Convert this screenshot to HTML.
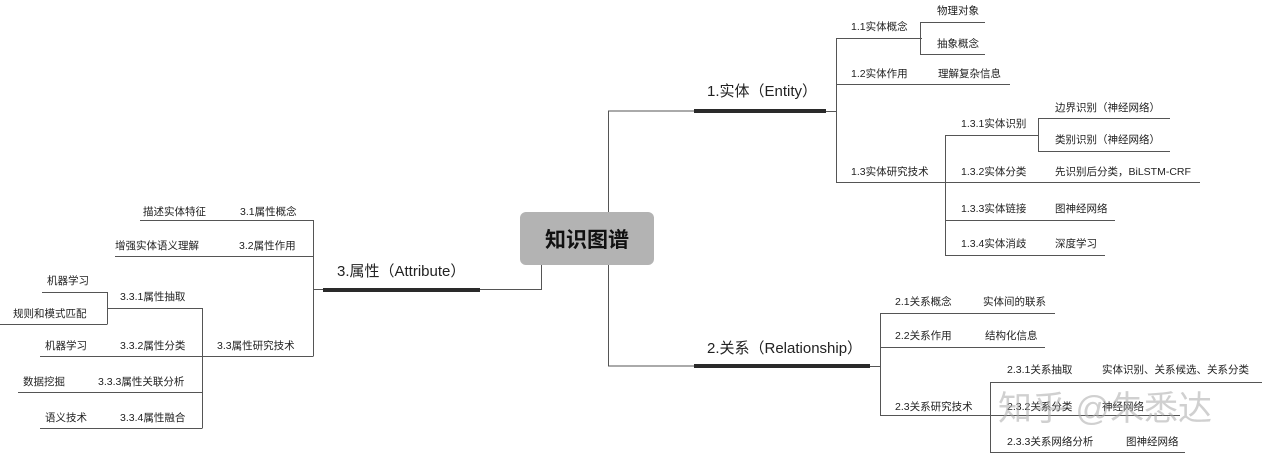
<!DOCTYPE html>
<html><head><meta charset="utf-8"><style>
html,body{margin:0;padding:0;background:#fff;}
svg{display:block;}
text{font-family:"Liberation Sans","Noto Sans CJK SC",sans-serif;fill:#222;font-size:10.5px;}
.m{font-size:15px;}
</style></head><body>
<svg width="1268" height="457" viewBox="0 0 1268 457" xmlns="http://www.w3.org/2000/svg">
<g stroke="#555" stroke-width="1" fill="none">
<path d="M608.5 111V366M608 111H695M608 366H695"/>
<path d="M541.5 264V289.5H480"/>
<path d="M826 111.5H836.5M836.5 38V182"/>
<path d="M836 38.5H922M920.5 22V54M920 22.5H985M920 54.5H985"/>
<path d="M836 84.5H1010"/>
<path d="M836 182.5H945M945.5 135V255"/>
<path d="M945 135.5H1038M1038.5 118V151M1038 118.5H1170M1038 151.5H1170"/>
<path d="M945 182.5H1200M945 220.5H1115M945 255.5H1105"/>
<path d="M870 366.5H880.5M880.5 313V415"/>
<path d="M880 313.5H1055M880 347.5H1045M880 415.5H990M990.5 382V452"/>
<path d="M990 382.5H1262M990 415.5H1180M990 452.5H1185"/>
<path d="M323 289.5H313.5M313.5 220V356"/>
<path d="M140 220.5H313.5M115 256.5H313.5M40 356.5H313.5"/>
<path d="M202.5 308V428M108 308.5H202.5M107.5 292V324M42 292.5H107.5M0 324.5H107.5"/>
<path d="M18 392.5H202.5M40 428.5H202.5"/>
</g>
<g stroke="#2a2a2a" stroke-width="4">
<path d="M694 111H826M694 366H870M323 290H480"/>
</g>
<rect x="520" y="212" width="134" height="53" rx="6" fill="#b3b3b3"/>
<text x="587" y="247" text-anchor="middle" style="font-size:21px;font-weight:bold;fill:#111">知识图谱</text>

<text class="m" x="707" y="96">1.实体（Entity）</text>
<text class="m" x="707" y="353">2.关系（Relationship）</text>
<text class="m" x="337" y="276">3.属性（Attribute）</text>

<text x="851" y="30">1.1实体概念</text>
<text x="937" y="14">物理对象</text>
<text x="937" y="47">抽象概念</text>
<text x="851" y="77">1.2实体作用</text>
<text x="938" y="77">理解复杂信息</text>
<text x="851" y="175">1.3实体研究技术</text>
<text x="961" y="127">1.3.1实体识别</text>
<text x="1055" y="111">边界识别（神经网络）</text>
<text x="1055" y="143">类别识别（神经网络）</text>
<text x="961" y="175">1.3.2实体分类</text>
<text x="1055" y="175">先识别后分类，BiLSTM-CRF</text>
<text x="961" y="212">1.3.3实体链接</text>
<text x="1055" y="212">图神经网络</text>
<text x="961" y="247">1.3.4实体消歧</text>
<text x="1055" y="247">深度学习</text>

<text x="895" y="305">2.1关系概念</text>
<text x="983" y="305">实体间的联系</text>
<text x="895" y="339">2.2关系作用</text>
<text x="985" y="339">结构化信息</text>
<text x="895" y="410">2.3关系研究技术</text>
<text x="1007" y="373">2.3.1关系抽取</text>
<text x="1102" y="373">实体识别、关系候选、关系分类</text>
<text x="1007" y="410">2.3.2关系分类</text>
<text x="1102" y="410">神经网络</text>
<text x="1007" y="445">2.3.3关系网络分析</text>
<text x="1126" y="445">图神经网络</text>

<text x="143" y="215">描述实体特征</text>
<text x="240" y="215">3.1属性概念</text>
<text x="115" y="249">增强实体语义理解</text>
<text x="239" y="249">3.2属性作用</text>
<text x="217" y="349">3.3属性研究技术</text>
<text x="120" y="300">3.3.1属性抽取</text>
<text x="47" y="284">机器学习</text>
<text x="13" y="317">规则和模式匹配</text>
<text x="45" y="349">机器学习</text>
<text x="120" y="349">3.3.2属性分类</text>
<text x="23" y="385">数据挖掘</text>
<text x="98" y="385">3.3.3属性关联分析</text>
<text x="45" y="421">语义技术</text>
<text x="120" y="421">3.3.4属性融合</text>

<text x="998" y="420" style="font-size:34px;fill:#aaa;fill-opacity:0.55">知乎 @朱悉达</text>
</svg>
</body></html>
